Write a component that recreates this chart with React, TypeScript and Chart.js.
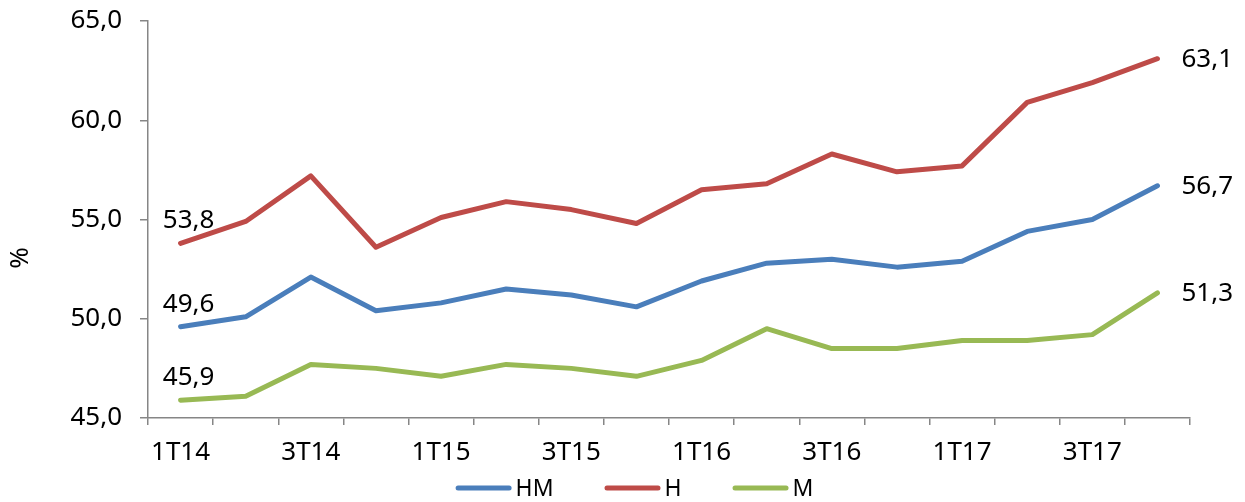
import React, { useEffect, useRef } from 'react';
import { Chart, registerables } from 'chart.js';

Chart.register(...registerables);

const categories = ['1T14', '2T14', '3T14', '4T14', '1T15', '2T15', '3T15', '4T15', '1T16', '2T16', '3T16', '4T16', '1T17', '2T17', '3T17', '4T17'];
const seriesHM = [49.6, 50.1, 52.1, 50.4, 50.8, 51.5, 51.2, 50.6, 51.9, 52.8, 53.0, 52.6, 52.9, 54.4, 55.0, 56.7];
const seriesH = [53.8, 54.9, 57.2, 53.6, 55.1, 55.9, 55.5, 54.8, 56.5, 56.8, 58.3, 57.4, 57.7, 60.9, 61.9, 63.1];
const seriesM = [45.9, 46.1, 47.7, 47.5, 47.1, 47.7, 47.5, 47.1, 47.9, 49.5, 48.5, 48.5, 48.9, 48.9, 49.2, 51.3];
const seriesNames = ['HM', 'H', 'M'];
const seriesColors = ['#4A7EBB', '#BE4B48', '#98B954'];
const yMin = 45;
const yMax = 65;
const yStep = 5;
const yTitle = '%';

const FONT = '"Noto Sans", "Open Sans", sans-serif';
const AXIS_COLOR = '#868686';

const fmt = (v: number) => v.toFixed(1).replace('.', ',');

const endLabels = {
  id: 'endLabels',
  afterDatasetsDraw(chart: any) {
    const ctx = chart.ctx;
    ctx.save();
    ctx.font = `26px ${FONT}`;
    ctx.fillStyle = '#000';
    chart.data.datasets.forEach((ds: any, i: number) => {
      const meta = chart.getDatasetMeta(i);
      const n = meta.data.length;
      const first = meta.data[0];
      const last = meta.data[n - 1];
      ctx.textAlign = 'center';
      ctx.textBaseline = 'alphabetic';
      ctx.fillText(fmt(ds.data[0]), first.x + 8, first.y - 15);
      ctx.textAlign = 'left';
      ctx.textBaseline = 'middle';
      ctx.fillText(fmt(ds.data[n - 1]), last.x + 24, last.y + 1);
    });
    ctx.restore();
  },
};

const yTitlePlugin = {
  id: 'yTitlePlugin',
  afterDraw(chart: any) {
    const ctx = chart.ctx;
    ctx.save();
    ctx.font = `26px ${FONT}`;
    ctx.fillStyle = '#000';
    ctx.translate(21, 258);
    ctx.rotate(-Math.PI / 2);
    ctx.textAlign = 'center';
    ctx.textBaseline = 'middle';
    ctx.fillText(yTitle, 0, 0);
    ctx.restore();
  },
};

const customLegend = {
  id: 'customLegend',
  afterDraw(chart: any) {
    const ctx = chart.ctx;
    ctx.save();
    ctx.font = `23px ${FONT}`;
    const sample = 56;
    const textGap = 4;
    const itemGap = 51;
    const y = 488;
    const widths = chart.data.datasets.map((ds: any) => sample + textGap + ctx.measureText(ds.label).width);
    const total = widths.reduce((a: number, b: number) => a + b, 0) + itemGap * (widths.length - 1);
    let x = (chart.width - total) / 2 + 12;
    chart.data.datasets.forEach((ds: any, i: number) => {
      ctx.strokeStyle = ds.borderColor;
      ctx.lineWidth = 5;
      ctx.lineCap = 'round';
      ctx.beginPath();
      ctx.moveTo(x + 2.5, y);
      ctx.lineTo(x + sample - 2.5, y);
      ctx.stroke();
      ctx.fillStyle = '#000';
      ctx.textAlign = 'left';
      ctx.textBaseline = 'middle';
      ctx.fillText(ds.label, x + sample + textGap, y + 1);
      x += widths[i] + itemGap;
    });
    ctx.restore();
  },
};

export default function App() {
  const canvasRef = useRef<HTMLCanvasElement | null>(null);

  useEffect(() => {
    if (!canvasRef.current) return;
    const seriesData = [seriesHM, seriesH, seriesM];
    const chart = new Chart(canvasRef.current, {
      type: 'line',
      data: {
        labels: categories,
        datasets: seriesNames.map((name, i) => ({
          label: name,
          data: seriesData[i],
          borderColor: seriesColors[i],
          backgroundColor: seriesColors[i],
          borderWidth: 5,
          pointRadius: 0,
          pointHoverRadius: 0,
          tension: 0,
          fill: false,
          borderCapStyle: 'round',
          borderJoinStyle: 'round',
        })),
      },
      options: {
        responsive: false,
        animation: false,
        layout: { padding: { left: 0, right: 55, top: 21, bottom: 34 } },
        plugins: {
          legend: { display: false },
          tooltip: { enabled: false },
        },
        scales: {
          x: {
            type: 'category',
            offset: true,
            grid: {
              offset: true,
              drawOnChartArea: false,
              drawTicks: true,
              tickLength: 7,
              color: AXIS_COLOR,
              lineWidth: 1.5,
            },
            border: { color: AXIS_COLOR, width: 1.5 },
            ticks: {
              autoSkip: false,
              maxRotation: 0,
              minRotation: 0,
              padding: 12,
              color: '#000',
              font: { family: FONT, size: 26 },
              callback: (_v: any, idx: number) => (idx % 2 === 0 ? categories[idx] : ''),
            },
            afterFit: (s: any) => {
              s.height = 50;
              s.paddingLeft = 0;
              s.paddingRight = 0;
            },
          },
          y: {
            min: yMin,
            max: yMax,
            grid: {
              drawOnChartArea: false,
              drawTicks: true,
              tickLength: 8,
              color: AXIS_COLOR,
              lineWidth: 1.5,
            },
            border: { color: AXIS_COLOR, width: 1.5 },
            ticks: {
              stepSize: yStep,
              padding: 18,
              color: '#000',
              font: { family: FONT, size: 26 },
              callback: (v: any) => fmt(Number(v)),
            },
            afterFit: (s: any) => {
              s.width = 148;
              s.paddingTop = 0;
              s.paddingBottom = 0;
            },
          },
        },
      },
      plugins: [endLabels, yTitlePlugin, customLegend],
    });
    return () => chart.destroy();
  }, []);

  return (
    <div style={{ position: 'absolute', left: 0, top: 0, width: 1245, height: 502, background: '#fff' }}>
      <canvas ref={canvasRef} width={1245} height={502} style={{ display: 'block' }} />
    </div>
  );
}
